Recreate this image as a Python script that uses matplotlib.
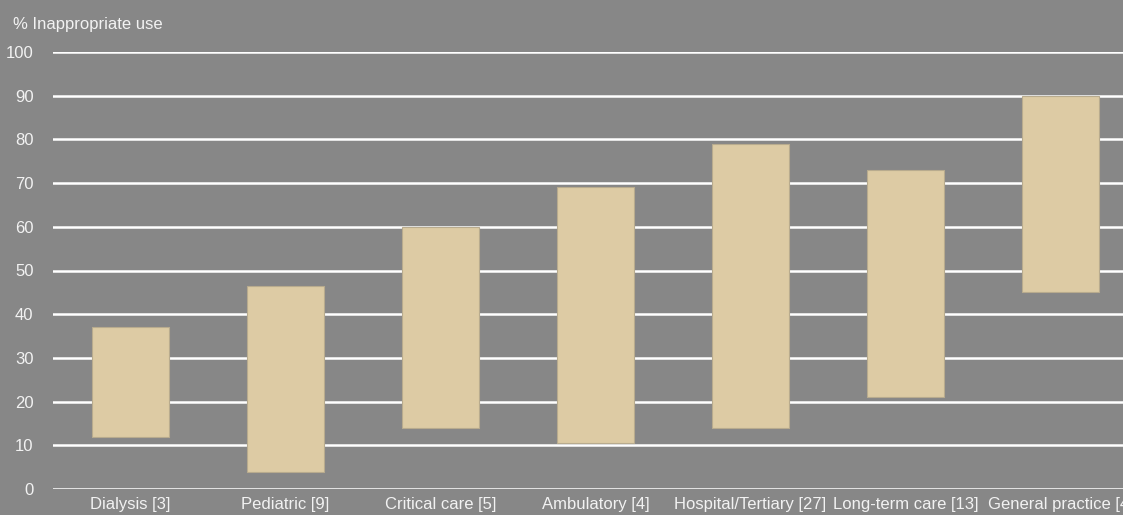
import matplotlib.pyplot as plt
from matplotlib import font_manager

# range of inappropriate use per care setting (low, high), number of studies in brackets
settings = ["Dialysis [3]", "Pediatric [9]", "Critical care [5]", "Ambulatory [4]",
            "Hospital/Tertiary [27]", "Long-term care [13]", "General practice [4]"]
low = [12, 4, 14, 10.5, 14, 21, 45]
high = [37, 46.5, 60, 69, 79, 73, 90]
yticks = [0, 10, 20, 30, 40, 50, 60, 70, 80, 90, 100]

names = {f.name for f in font_manager.fontManager.ttflist}
font = "Liberation Sans Narrow" if "Liberation Sans Narrow" in names else "Liberation Sans"
plt.rcParams['font.family'] = [font, 'DejaVu Sans']
fs = 12

bg = "#878787"
bar_col = "#ddcba4"
txt = "#f2f2f2"

fig = plt.figure(figsize=(11.23, 5.15), dpi=100)
fig.patch.set_facecolor(bg)
# axes run past the right edge of the figure, so the last label gets clipped
ax = fig.add_axes([53 / 1123, 26 / 515, 1085 / 1123, 437 / 515])
ax.set_facecolor(bg)

x = range(len(settings))
heights = [h - l for l, h in zip(low, high)]
ax.bar(x, heights, bottom=low, width=0.5, color=bar_col, edgecolor="#b8ab8e",
       linewidth=0.8, zorder=3)

ax.set_xlim(-0.5, len(settings) - 0.5)
ax.set_ylim(0, 100)
ax.set_yticks(yticks)
ax.yaxis.grid(True, color="white", linewidth=1.8, zorder=1)
ax.set_xticks(list(x))
ax.set_xticklabels(settings)
ax.tick_params(axis="both", length=0, colors=txt, labelsize=fs)
ax.tick_params(axis="y", pad=14)
ax.tick_params(axis="x", pad=6)
for s in ax.spines.values():
    s.set_visible(False)

fig.text(13 / 1123, 1 - 25 / 515, "% Inappropriate use", color=txt, fontsize=fs,
         va="center", ha="left")

fig.savefig("out.png", dpi=100, facecolor=bg)
